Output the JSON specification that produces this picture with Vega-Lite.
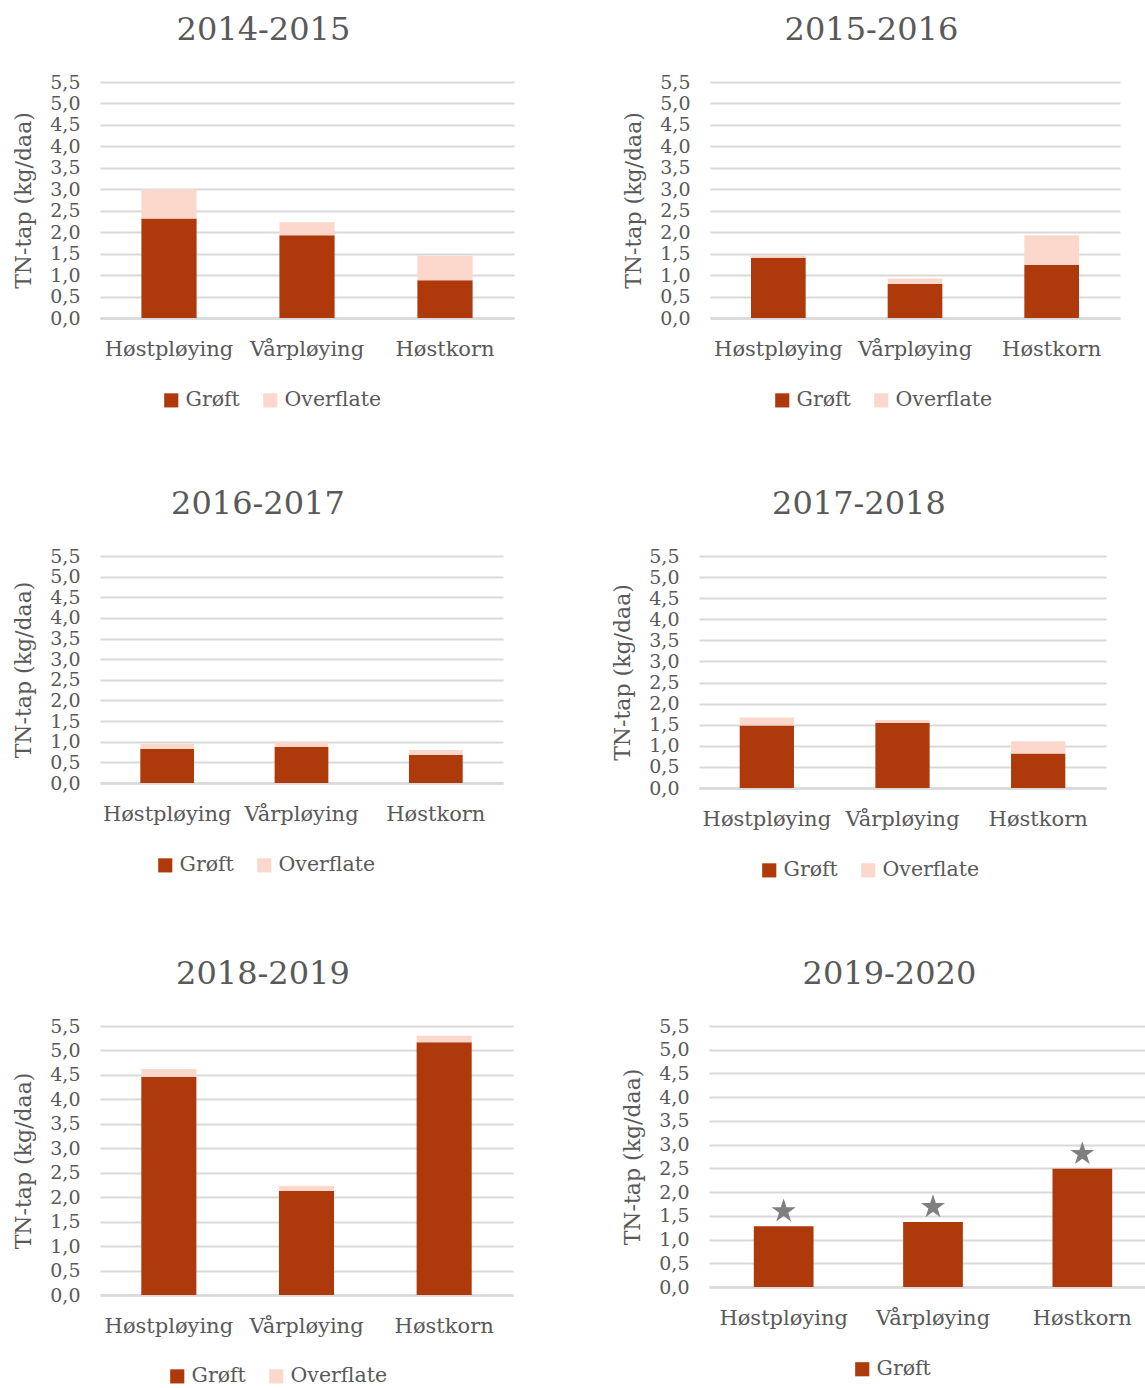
{
  "$schema": "https://vega.github.io/schema/vega-lite/v6.json",
  "background": "white",
  "padding": {"left": 12, "top": 14, "right": 0, "bottom": 0},
  "datasets": {
    "tap": [
      {"periode": "2014-2015", "behandling": "Høstpløying", "type": "Grøft", "verdi": 2.32},
      {"periode": "2014-2015", "behandling": "Høstpløying", "type": "Overflate", "verdi": 0.68},
      {"periode": "2014-2015", "behandling": "Vårpløying", "type": "Grøft", "verdi": 1.93},
      {"periode": "2014-2015", "behandling": "Vårpløying", "type": "Overflate", "verdi": 0.30},
      {"periode": "2014-2015", "behandling": "Høstkorn", "type": "Grøft", "verdi": 0.88},
      {"periode": "2014-2015", "behandling": "Høstkorn", "type": "Overflate", "verdi": 0.57},
      {"periode": "2015-2016", "behandling": "Høstpløying", "type": "Grøft", "verdi": 1.40},
      {"periode": "2015-2016", "behandling": "Høstpløying", "type": "Overflate", "verdi": 0.06},
      {"periode": "2015-2016", "behandling": "Vårpløying", "type": "Grøft", "verdi": 0.80},
      {"periode": "2015-2016", "behandling": "Vårpløying", "type": "Overflate", "verdi": 0.12},
      {"periode": "2015-2016", "behandling": "Høstkorn", "type": "Grøft", "verdi": 1.24},
      {"periode": "2015-2016", "behandling": "Høstkorn", "type": "Overflate", "verdi": 0.69},
      {"periode": "2016-2017", "behandling": "Høstpløying", "type": "Grøft", "verdi": 0.83},
      {"periode": "2016-2017", "behandling": "Høstpløying", "type": "Overflate", "verdi": 0.12},
      {"periode": "2016-2017", "behandling": "Vårpløying", "type": "Grøft", "verdi": 0.87},
      {"periode": "2016-2017", "behandling": "Vårpløying", "type": "Overflate", "verdi": 0.13},
      {"periode": "2016-2017", "behandling": "Høstkorn", "type": "Grøft", "verdi": 0.68},
      {"periode": "2016-2017", "behandling": "Høstkorn", "type": "Overflate", "verdi": 0.12},
      {"periode": "2017-2018", "behandling": "Høstpløying", "type": "Grøft", "verdi": 1.48},
      {"periode": "2017-2018", "behandling": "Høstpløying", "type": "Overflate", "verdi": 0.19},
      {"periode": "2017-2018", "behandling": "Vårpløying", "type": "Grøft", "verdi": 1.54},
      {"periode": "2017-2018", "behandling": "Vårpløying", "type": "Overflate", "verdi": 0.07},
      {"periode": "2017-2018", "behandling": "Høstkorn", "type": "Grøft", "verdi": 0.82},
      {"periode": "2017-2018", "behandling": "Høstkorn", "type": "Overflate", "verdi": 0.29},
      {"periode": "2018-2019", "behandling": "Høstpløying", "type": "Grøft", "verdi": 4.46},
      {"periode": "2018-2019", "behandling": "Høstpløying", "type": "Overflate", "verdi": 0.16},
      {"periode": "2018-2019", "behandling": "Vårpløying", "type": "Grøft", "verdi": 2.13},
      {"periode": "2018-2019", "behandling": "Vårpløying", "type": "Overflate", "verdi": 0.10},
      {"periode": "2018-2019", "behandling": "Høstkorn", "type": "Grøft", "verdi": 5.17},
      {"periode": "2018-2019", "behandling": "Høstkorn", "type": "Overflate", "verdi": 0.13},
      {"periode": "2019-2020", "behandling": "Høstpløying", "type": "Grøft", "verdi": 1.28, "signifikant": true},
      {"periode": "2019-2020", "behandling": "Vårpløying", "type": "Grøft", "verdi": 1.37, "signifikant": true},
      {"periode": "2019-2020", "behandling": "Høstkorn", "type": "Grøft", "verdi": 2.49, "signifikant": true}
    ]
  },
  "config": {
    "view": {"stroke": null},
    "font": "DejaVu Serif",
    "title": {"fontSize": 32, "fontWeight": "normal", "color": "#595959", "anchor": "middle", "frame": "bounds", "offset": 26},
    "axisX": {
      "labelAngle": 0, "labelFontSize": 21, "labelColor": "#595959", "labelPadding": 20,
      "ticks": false, "domainColor": "#D9D9D9", "domainWidth": 2.5, "grid": false, "title": null
    },
    "axisY": {
      "labelFontSize": 19, "labelColor": "#595959", "labelPadding": 20,
      "ticks": false, "domain": false, "gridColor": "#D9D9D9", "gridWidth": 1.8,
      "titleFontSize": 22, "titleFontWeight": "normal", "titleColor": "#595959", "titlePadding": 14
    },
    "legend": {
      "orient": "none", "direction": "horizontal", "title": null, "symbolType": "square",
      "symbolSize": 200, "symbolStrokeWidth": 0, "labelFontSize": 20.5, "labelColor": "#595959",
      "columnPadding": 20, "labelOffset": 4, "padding": 0
    },
    "bar": {"stroke": null}
  },
  "spacing": 77,
  "resolve": {"scale": {"color": "independent"}, "legend": {"color": "independent"}},
  "vconcat": [
    {
      "spacing": 108,
      "resolve": {"scale": {"color": "independent"}, "legend": {"color": "independent"}},
      "hconcat": [
        {
          "title": "2014-2015", "width": 414, "height": 236,
          "data": {"name": "tap"},
          "transform": [{"filter": "datum.periode == '2014-2015'"}],
          "mark": "bar",
          "encoding": {
            "x": {"field": "behandling", "type": "nominal", "sort": ["Høstpløying", "Vårpløying", "Høstkorn"], "scale": {"paddingInner": 0.6, "paddingOuter": 0.3}},
            "y": {"field": "verdi", "type": "quantitative", "stack": "zero", "scale": {"domain": [0, 5.5]}, "title": "TN-tap (kg/daa)",
              "axis": {"values": [0, 0.5, 1, 1.5, 2, 2.5, 3, 3.5, 4, 4.5, 5, 5.5], "labelExpr": "replace(format(datum.value, '.1f'), '.', ',')"}},
            "color": {"field": "type", "type": "nominal", "scale": {"domain": ["Grøft", "Overflate"], "range": ["#AE3A0C", "#FCD8CC"]},
              "legend": {"legendX": 61, "legendY": 308}},
            "order": {"field": "type", "sort": "ascending"}
          }
        },
        {
          "title": "2015-2016", "width": 410, "height": 236,
          "data": {"name": "tap"},
          "transform": [{"filter": "datum.periode == '2015-2016'"}],
          "mark": "bar",
          "encoding": {
            "x": {"field": "behandling", "type": "nominal", "sort": ["Høstpløying", "Vårpløying", "Høstkorn"], "scale": {"paddingInner": 0.6, "paddingOuter": 0.3}},
            "y": {"field": "verdi", "type": "quantitative", "stack": "zero", "scale": {"domain": [0, 5.5]}, "title": "TN-tap (kg/daa)",
              "axis": {"values": [0, 0.5, 1, 1.5, 2, 2.5, 3, 3.5, 4, 4.5, 5, 5.5], "labelExpr": "replace(format(datum.value, '.1f'), '.', ',')"}},
            "color": {"field": "type", "type": "nominal", "scale": {"domain": ["Grøft", "Overflate"], "range": ["#AE3A0C", "#FCD8CC"]},
              "legend": {"legendX": 62, "legendY": 308}},
            "order": {"field": "type", "sort": "ascending"}
          }
        }
      ]
    },
    {
      "spacing": 108,
      "resolve": {"scale": {"color": "independent"}, "legend": {"color": "independent"}},
      "hconcat": [
        {
          "title": "2016-2017", "width": 403, "height": 227,
          "data": {"name": "tap"},
          "transform": [{"filter": "datum.periode == '2016-2017'"}],
          "mark": "bar",
          "encoding": {
            "x": {"field": "behandling", "type": "nominal", "sort": ["Høstpløying", "Vårpløying", "Høstkorn"], "scale": {"paddingInner": 0.6, "paddingOuter": 0.3}},
            "y": {"field": "verdi", "type": "quantitative", "stack": "zero", "scale": {"domain": [0, 5.5]}, "title": "TN-tap (kg/daa)",
              "axis": {"values": [0, 0.5, 1, 1.5, 2, 2.5, 3, 3.5, 4, 4.5, 5, 5.5], "labelExpr": "replace(format(datum.value, '.1f'), '.', ',')"}},
            "color": {"field": "type", "type": "nominal", "scale": {"domain": ["Grøft", "Overflate"], "range": ["#AE3A0C", "#FCD8CC"]},
              "legend": {"legendX": 55, "legendY": 299}},
            "order": {"field": "type", "sort": "ascending"}
          }
        },
        {
          "title": "2017-2018", "width": 407, "height": 232,
          "data": {"name": "tap"},
          "transform": [{"filter": "datum.periode == '2017-2018'"}],
          "mark": "bar",
          "encoding": {
            "x": {"field": "behandling", "type": "nominal", "sort": ["Høstpløying", "Vårpløying", "Høstkorn"], "scale": {"paddingInner": 0.6, "paddingOuter": 0.3}},
            "y": {"field": "verdi", "type": "quantitative", "stack": "zero", "scale": {"domain": [0, 5.5]}, "title": "TN-tap (kg/daa)",
              "axis": {"values": [0, 0.5, 1, 1.5, 2, 2.5, 3, 3.5, 4, 4.5, 5, 5.5], "labelExpr": "replace(format(datum.value, '.1f'), '.', ',')"}},
            "color": {"field": "type", "type": "nominal", "scale": {"domain": ["Grøft", "Overflate"], "range": ["#AE3A0C", "#FCD8CC"]},
              "legend": {"legendX": 60, "legendY": 304}},
            "order": {"field": "type", "sort": "ascending"}
          }
        }
      ]
    },
    {
      "spacing": 108,
      "resolve": {"scale": {"color": "independent"}, "legend": {"color": "independent"}},
      "hconcat": [
        {
          "title": "2018-2019", "width": 413, "height": 269,
          "data": {"name": "tap"},
          "transform": [{"filter": "datum.periode == '2018-2019'"}],
          "mark": "bar",
          "encoding": {
            "x": {"field": "behandling", "type": "nominal", "sort": ["Høstpløying", "Vårpløying", "Høstkorn"], "scale": {"paddingInner": 0.6, "paddingOuter": 0.3}},
            "y": {"field": "verdi", "type": "quantitative", "stack": "zero", "scale": {"domain": [0, 5.5]}, "title": "TN-tap (kg/daa)",
              "axis": {"values": [0, 0.5, 1, 1.5, 2, 2.5, 3, 3.5, 4, 4.5, 5, 5.5], "labelExpr": "replace(format(datum.value, '.1f'), '.', ',')"}},
            "color": {"field": "type", "type": "nominal", "scale": {"domain": ["Grøft", "Overflate"], "range": ["#AE3A0C", "#FCD8CC"]},
              "legend": {"legendX": 67, "legendY": 340}},
            "order": {"field": "type", "sort": "ascending"}
          }
        },
        {
          "title": "2019-2020", "width": 448, "height": 261,
          "data": {"name": "tap"},
          "transform": [{"filter": "datum.periode == '2019-2020'"}],
          "encoding": {
            "x": {"field": "behandling", "type": "nominal", "sort": ["Høstpløying", "Vårpløying", "Høstkorn"], "scale": {"paddingInner": 0.6, "paddingOuter": 0.3}},
            "y": {"field": "verdi", "type": "quantitative", "scale": {"domain": [0, 5.5]}, "title": "TN-tap (kg/daa)",
              "axis": {"values": [0, 0.5, 1, 1.5, 2, 2.5, 3, 3.5, 4, 4.5, 5, 5.5], "labelExpr": "replace(format(datum.value, '.1f'), '.', ',')"}}
          },
          "layer": [
            {
              "mark": "bar",
              "encoding": {
                "color": {"field": "type", "type": "nominal", "scale": {"domain": ["Grøft"], "range": ["#AE3A0C"]},
                  "legend": {"legendX": 143, "legendY": 333}}
              }
            },
            {
              "transform": [{"filter": "datum.signifikant"}],
              "mark": {
                "type": "point", "filled": true, "color": "#7F7F7F", "opacity": 1, "size": 640, "yOffset": -15,
                "shape": "M0,-1L0.2245,-0.309L0.9511,-0.309L0.3633,0.118L0.5878,0.809L0,0.382L-0.5878,0.809L-0.3633,0.118L-0.9511,-0.309L-0.2245,-0.309Z"
              }
            }
          ]
        }
      ]
    }
  ]
}
